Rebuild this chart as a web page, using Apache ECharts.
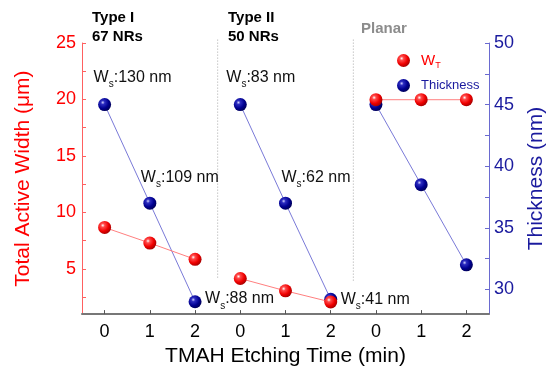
<!DOCTYPE html>
<html>
<head>
<meta charset="utf-8">
<script src="https://cdn.jsdelivr.net/npm/echarts@6/dist/echarts.min.js"></script>
<style>
  html, body { margin: 0; padding: 0; background: #fff; }
  #chart { width: 555px; height: 372px; }
</style>
</head>
<body>
<div id="chart"></div>
<script>
// data
const groups = ['Type I', 'Type II', 'Planar']
const groupCounts = ['67 NRs', '50 NRs', '']
const etchTimes = [0, 1, 2]
const activeWidth = [[8.67, 7.29, 5.85], [4.15, 3.06, 2.07], [19.98, 19.98, 19.98]]
const thickness = [[45, 37, 29], [45, 37, 29.2], [45, 38.5, 32]]
const wsLabels = [['130', '109', '88'], ['83', '62', '41'], [null, null, null]]
const widthTicks = [5, 10, 15, 20, 25]
const widthMinor = [2.5, 7.5, 12.5, 17.5, 22.5]
const thickTicks = [30, 35, 40, 45, 50]
const thickMinor = [32.5, 37.5, 42.5, 47.5]
const separators = [[2.5, 25.3, 4.1], [5.5, 25.3, 3.8]]

const FONT = 'Arial, "Liberation Sans", sans-serif'
const RED = '#ff0000'
const NAVY = '#1a1a9e'
// label offsets from the point centre, per group / time
const LABEL_OFFSETS = [
  [[-11, -27], [-9, -26], [10, -3]],
  [[-14, -27], [-4, -26], [10, 0]],
]

const redBall = new echarts.graphic.RadialGradient(0.36, 0.34, 0.68, [
  { offset: 0, color: '#ffffff' },
  { offset: 0.22, color: '#ff4a4a' },
  { offset: 0.65, color: '#f00000' },
  { offset: 1, color: '#a80000' },
])
const blueBall = new echarts.graphic.RadialGradient(0.36, 0.34, 0.68, [
  { offset: 0, color: '#d0d0ff' },
  { offset: 0.22, color: '#2c2cc0' },
  { offset: 0.65, color: '#000090' },
  { offset: 1, color: '#00005a' },
])

const xCats = groups.flatMap((g, gi) => etchTimes.map(t => gi * 3 + t))

const wsRich = {
  w: { fontSize: 16, color: '#111', fontFamily: FONT },
  s: { fontSize: 10, color: '#111', fontFamily: FONT, padding: [14, 0, 0, 0] },
}

const series = []
groups.forEach((g, gi) => {
  series.push({
    name: 'Thickness',
    type: 'line',
    yAxisIndex: 1,
    z: 3,
    symbol: 'circle',
    symbolSize: 13,
    itemStyle: { color: blueBall },
    lineStyle: { color: '#7a7ad8', width: 1 },
    data: etchTimes.map((t, ti) => {
      const item = { value: [gi * 3 + t, thickness[gi][ti]] }
      const ws = wsLabels[gi][ti]
      if (ws) {
        item.label = {
          show: true,
          position: 'inside',
          align: 'left',
          verticalAlign: 'middle',
          offset: LABEL_OFFSETS[gi][ti],
          formatter: `{w|W}{s|s}{w|:${ws} nm}`,
          rich: wsRich,
        }
      }
      return item
    }),
    animation: false,
  })
})
groups.forEach((g, gi) => {
  series.push({
    name: 'WT',
    type: 'line',
    yAxisIndex: 0,
    z: 4,
    symbol: 'circle',
    symbolSize: 13,
    itemStyle: { color: redBall },
    lineStyle: { color: '#ff8080', width: 1 },
    data: etchTimes.map((t, ti) => [gi * 3 + t, activeWidth[gi][ti]]),
    animation: false,
  })
})
separators.forEach(([x, top, bottom]) => {
  series.push({
    name: 'sep',
    type: 'line',
    yAxisIndex: 0,
    clip: false,
    silent: true,
    symbol: 'none',
    lineStyle: { color: '#a8a8a8', width: 1, type: [1, 2] },
    data: [[x, top], [x, bottom]],
    animation: false,
  })
})

const chart = echarts.init(document.getElementById('chart'))
chart.setOption({
  backgroundColor: '#fff',
  animation: false,
  textStyle: { fontFamily: FONT },
  title: groups.map((g, gi) => ({
    text: groupCounts[gi] ? `${g}\n${groupCounts[gi]}` : g,
    left: [92, 228, 361][gi],
    top: [8, 8, 19][gi],
    padding: 0,
    textStyle: {
      fontSize: 15,
      fontWeight: 'bold',
      lineHeight: 19,
      color: gi === 2 ? '#8c8c8c' : '#000',
      fontFamily: FONT,
    },
  })),
  legend: {
    orient: 'vertical',
    left: 392,
    top: 48,
    itemWidth: 25,
    itemHeight: 13,
    itemGap: 9,
    icon: 'circle',
    data: [
      { name: 'WT', textStyle: { color: RED } },
      { name: 'Thickness', textStyle: { color: NAVY } },
    ],
    formatter(name) {
      return name === 'WT' ? '{w|W}{t|T}' : '{n|Thickness}'
    },
    textStyle: {
      fontFamily: FONT,
      rich: {
        w: { fontSize: 15, color: RED, fontFamily: FONT },
        t: { fontSize: 9, color: RED, fontFamily: FONT, padding: [10, 0, 0, 0] },
        n: { fontSize: 13, color: NAVY, fontFamily: FONT },
      },
    },
  },
  grid: { left: 82, right: 61, top: 43, bottom: 56 },
  xAxis: {
    type: 'value',
    min: -0.5,
    max: 8.5,
    name: 'TMAH Etching Time (min)',
    nameLocation: 'middle',
    nameGap: 30,
    nameTextStyle: { fontSize: 21, color: '#000', fontFamily: FONT },
    axisLine: { onZero: false, lineStyle: { color: '#777', width: 2 } },
    axisTick: { inside: true, length: 4, lineStyle: { color: '#555' }, customValues: xCats },
    axisLabel: {
      customValues: xCats,
      color: '#000',
      fontSize: 18,
      margin: 9,
      formatter: v => String(etchTimes[Math.round(v) % 3]),
    },
    splitLine: { show: false },
  },
  yAxis: [
    {
      type: 'value',
      min: 1,
      max: 25,
      position: 'left',
      name: 'Total Active Width (\u03bcm)',
      nameLocation: 'middle',
      nameGap: 48,
      nameTextStyle: { fontSize: 21, color: RED, fontFamily: FONT },
      axisLine: { show: true, onZero: false, lineStyle: { color: '#ff6060', width: 1 } },
      axisTick: {
        inside: true, length: 4,
        customValues: widthTicks.concat(widthMinor),
        lineStyle: { color: '#ff6060' },
      },
      axisLabel: { customValues: widthTicks, color: RED, fontSize: 18, margin: 6 },
      splitLine: { show: false },
    },
    {
      type: 'value',
      min: 28,
      max: 50,
      position: 'right',
      name: 'Thickness (nm)',
      nameLocation: 'middle',
      nameGap: 37,
      nameTextStyle: { fontSize: 21, color: NAVY, fontFamily: FONT },
      axisLine: { show: true, onZero: false, lineStyle: { color: '#6a6ad0', width: 1 } },
      axisTick: {
        inside: true, length: 4,
        customValues: thickTicks.concat(thickMinor),
        lineStyle: { color: '#6a6ad0' },
      },
      axisLabel: { customValues: thickTicks, color: NAVY, fontSize: 18, margin: 5 },
      splitLine: { show: false },
    },
  ],
  series,
})
</script>
</body>
</html>
